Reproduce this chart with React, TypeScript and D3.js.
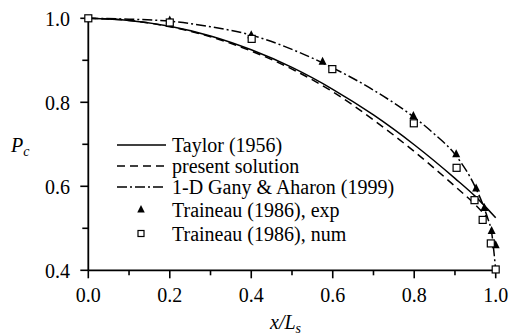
import React from 'react';
import * as d3 from 'd3';

const xMajor = [0, 0.2, 0.4, 0.6, 0.8, 1.0];
const xMinor = [0.1, 0.3, 0.5, 0.7, 0.9];
const yMajor = [0.4, 0.6, 0.8, 1.0];
const yMinor = [0.5, 0.7, 0.9];

const taylorX = [0, 0.1, 0.2, 0.3, 0.4, 0.5, 0.6, 0.7, 0.8, 0.9, 0.95, 1.0];
const taylorY = [1.0, 0.995, 0.981, 0.958, 0.925, 0.883, 0.831, 0.770, 0.699, 0.619, 0.576, 0.525];

const presentX = [0, 0.1, 0.2, 0.3, 0.4, 0.5, 0.6, 0.7, 0.8, 0.9, 0.95, 0.98];
const presentY = [1.0, 0.995, 0.980, 0.956, 0.922, 0.879, 0.825, 0.758, 0.683, 0.600, 0.556, 0.525];

const ganyX = [0, 0.1, 0.2, 0.3, 0.4, 0.5, 0.6, 0.7, 0.8, 0.85, 0.9, 0.95, 0.97, 0.98, 0.99, 1.0];
const ganyY = [1.0, 0.998, 0.993, 0.980, 0.960, 0.926, 0.882, 0.829, 0.764, 0.724, 0.676, 0.598, 0.553, 0.525, 0.49, 0.40];

const expX = [0.2, 0.4, 0.575, 0.798, 0.903, 0.952, 0.972, 0.990, 1.0];
const expY = [0.995, 0.960, 0.897, 0.768, 0.677, 0.595, 0.549, 0.494, 0.460];

const numX = [0, 0.2, 0.401, 0.599, 0.799, 0.904, 0.948, 0.968, 0.988, 1.0];
const numY = [1.0, 0.990, 0.951, 0.879, 0.750, 0.644, 0.567, 0.520, 0.464, 0.402];

const legendLabels = [
  'Taylor (1956)',
  'present solution',
  '1-D Gany & Aharon (1999)',
  'Traineau (1986), exp',
  'Traineau (1986), num',
];

const FONT = "'Liberation Serif', Tinos, 'Times New Roman', 'DejaVu Serif', serif";

export default function App() {
  const W = 509, H = 335;
  const x = d3.scaleLinear().domain([0, 1]).range([88.3, 495.7]);
  const y = d3.scaleLinear().domain([0.4, 1]).range([270.3, 18.3]);
  const line = d3.line<[number, number]>()
    .x(d => x(d[0]))
    .y(d => y(d[1]))
    .curve(d3.curveMonotoneX);
  const zip = (a: number[], b: number[]) => a.map((v, i) => [v, b[i]] as [number, number]);

  const tri = (cx: number, cy: number, s: number) =>
    `M${cx},${cy - s * 0.6}L${cx + s / 2},${cy + s * 0.4}L${cx - s / 2},${cy + s * 0.4}Z`;

  const legendRows = [145, 166, 187, 209.5, 233.5];
  const lx0 = 117, lx1 = 166, ltx = 172;
  const txt = { fontFamily: FONT, fontSize: '20px' } as React.CSSProperties;
  const sub = { fontFamily: FONT, fontSize: '14px' } as React.CSSProperties;

  return (
    <svg width={W} height={H} style={{ position: 'absolute', left: 0, top: 0, background: '#fff', fontFamily: FONT }}>
      <rect x={0} y={0} width={W} height={H} fill="#fff" />
      {/* axes */}
      <line x1={x(0)} x2={x(0)} y1={y(0.4)} y2={y(1.0)} stroke="#000" strokeWidth={1.8} />
      <line x1={x(0)} x2={x(1)} y1={y(0.4)} y2={y(0.4)} stroke="#000" strokeWidth={1.8} />
      {xMajor.map(t => (
        <g key={'xm' + t}>
          <line x1={x(t)} x2={x(t)} y1={y(0.4)} y2={y(0.4) + 8} stroke="#000" strokeWidth={1.6} />
          <text x={x(t)} y={301.5} textAnchor="middle" style={txt}>{t.toFixed(1)}</text>
        </g>
      ))}
      {xMinor.map(t => (
        <line key={'xn' + t} x1={x(t)} x2={x(t)} y1={y(0.4)} y2={y(0.4) + 5} stroke="#000" strokeWidth={1.6} />
      ))}
      {yMajor.map(t => (
        <g key={'ym' + t}>
          <line x1={x(0) - 8} x2={x(0)} y1={y(t)} y2={y(t)} stroke="#000" strokeWidth={1.6} />
          <text x={70} y={y(t) + 7.5} textAnchor="end" style={txt}>{t.toFixed(1)}</text>
        </g>
      ))}
      {yMinor.map(t => (
        <line key={'yn' + t} x1={x(0) - 6} x2={x(0)} y1={y(t)} y2={y(t)} stroke="#000" strokeWidth={1.6} />
      ))}
      {/* axis titles */}
      <text x={11} y={152} style={{ ...txt, fontStyle: 'italic' }}>P<tspan style={sub} dy={4}>c</tspan></text>
      <text x={270} y={329} style={{ ...txt, fontStyle: 'italic' }}>x/L<tspan style={sub} dy={4}>s</tspan></text>

      {/* curves */}
      <path d={line(zip(taylorX, taylorY)) || ''} fill="none" stroke="#000" strokeWidth={1.5} />
      <path d={line(zip(presentX, presentY)) || ''} fill="none" stroke="#000" strokeWidth={1.5} strokeDasharray="8,5" />
      <path d={line(zip(ganyX, ganyY)) || ''} fill="none" stroke="#000" strokeWidth={1.5} strokeDasharray="10,3,2,3" />

      {/* markers */}
      {expX.map((v, i) => (
        <path key={'e' + i} d={tri(x(v), y(expY[i]), 8)} fill="#000" />
      ))}
      {numX.map((v, i) => (
        <rect key={'n' + i} x={x(v) - 3.5} y={y(numY[i]) - 3.5} width={7} height={7} fill="#fff" stroke="#000" strokeWidth={1.2} />
      ))}

      {/* legend */}
      <line x1={lx0} x2={lx1} y1={legendRows[0]} y2={legendRows[0]} stroke="#000" strokeWidth={1.5} />
      <line x1={lx0} x2={lx1} y1={legendRows[1]} y2={legendRows[1]} stroke="#000" strokeWidth={1.5} strokeDasharray="8,5" />
      <line x1={lx0} x2={lx1} y1={legendRows[2]} y2={legendRows[2]} stroke="#000" strokeWidth={1.5} strokeDasharray="10,3,2,3" />
      <path d={tri(141, legendRows[3], 7.5)} fill="#000" />
      <rect x={141 - 3} y={legendRows[4] - 3} width={6} height={6} fill="#fff" stroke="#000" strokeWidth={1.2} />
      {legendLabels.map((l, i) => (
        <text key={l} x={ltx} y={legendRows[i] + 7} style={txt}>{l}</text>
      ))}
    </svg>
  );
}
